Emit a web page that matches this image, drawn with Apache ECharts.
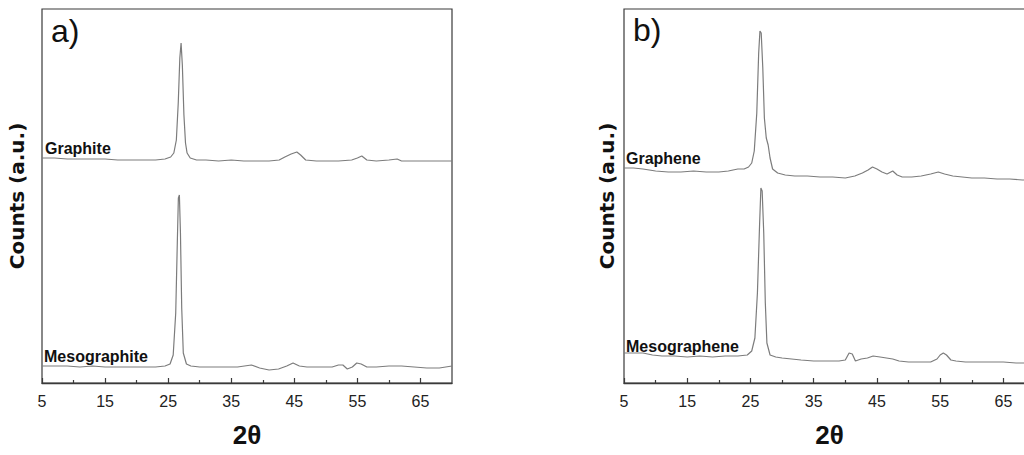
<!DOCTYPE html>
<html><head><meta charset="utf-8">
<script src="https://cdn.jsdelivr.net/npm/echarts@6/dist/echarts.min.js"></script>
<style>html,body{margin:0;padding:0;background:#fff}#c{width:1024px;height:455px}</style>
</head><body><div id="c"></div>
<script>
// tick labels / ticks (2θ)
const tickLabels = [5, 15, 25, 35, 45, 55, 65];
const minorTicks = [10, 20, 30, 40, 50, 60];

// Panel a) Graphite
const graphiteX = [5,7,9,11,13,15,17,19,21,23,24.5,25.4,25.9,26.3,26.6,26.85,27.05,27.25,27.5,27.75,28.0,28.5,29.5,31,33,35,37,39,41,42.6,43.5,44.5,45.4,46.0,46.8,48.5,50,52,54.1,55.0,55.7,56.5,58,60,61.3,62,64,66,68,70];
const graphiteY = [225,225,224,224,224,224,223,223,223,223,224,226,230,243,280,325,340,318,268,240,230,225,223,223,222,223,222,222,222,223,226,229,231,228,223,222,222,222,223,225,227,223,222,223,224,222,222,222,222,222];

// Panel a) Mesographite
const mesographiteX = [5,7,9,11,13,15,17,19,21,23,24.5,25.3,25.8,26.2,26.45,26.62,26.78,26.95,27.15,27.4,27.9,28.6,30,32,34,36,38.2,39.5,41,42.5,43.8,44.8,45.8,47,49,51,52,52.7,53.4,54.2,54.9,55.6,56.5,58,60,62,64,66,68,70];
const mesographiteY = [17,17,17,16,17,16,16,16,16,16,17,19,28,70,140,185,188,150,75,30,19,17,16,16,16,16,18,15,13,14,17,20,17,16,16,16,18,18,14,16,20,19,16,16,17,17,16,15,15,17];

// Panel b) Graphene
const grapheneX = [5,6.5,8,10,12,14,16,18,20,21.5,23,24,24.7,25.2,25.6,26.0,26.3,26.5,26.7,26.95,27.2,27.5,27.8,28.1,28.5,29.3,30.5,32,34,36,38,40,41.5,42.7,43.6,44.3,45.0,45.8,46.6,47.5,48.2,49,50.5,52,53.5,54.7,55.7,57,58.5,60,62,64,66,68,70];
const grapheneY = [215,215,214,212,211,211,212,211,211,212,214,214,216,220,232,270,330,352,350,315,265,245,238,225,214,210,208,207,207,206,206,205,207,210,213,216,214,211,209,212,208,206,206,207,209,211,209,207,206,205,205,204,204,203,203];

// Panel b) Mesographene
const mesographeneX = [5,6.5,8,9.5,11,13,15,17,19,21,23,24.5,25.2,25.7,26.1,26.45,26.65,26.85,27.1,27.35,27.6,28.1,29,30,31.5,33,35,37,39,40,40.6,41.1,41.6,42.5,43.5,44.4,45.5,46.5,47.5,48.5,50,52,53.5,54.5,55.0,55.5,56.0,56.7,57.5,59,61,63,65,67,70];
const mesographeneY = [30,30,30,28,27,27,26,27,26,27,27,28,32,45,90,160,195,192,150,80,40,28,26,25,24,23,22,22,22,23,30,29,22,24,25,27,26,25,24,22,21,21,21,24,28,30,28,23,22,21,21,21,21,20,20];

const zip = (xs, ys) => xs.map((x, i) => [x, ys[i]]);

const chart = echarts.init(document.getElementById('c'), null, {renderer: 'svg'});

const lineColor = '#7c7c7c';
const frameColor = '#3a3a3a';

function majorAxis(gridIndex) {
  return {
    type: 'value', gridIndex: gridIndex, min: 5, max: 70, position: 'bottom',
    name: '2θ', nameLocation: 'middle', nameGap: 39,
    nameTextStyle: {fontFamily: 'Liberation Sans', fontWeight: 'bold', fontSize: 26, color: '#111'},
    axisLine: {show: true, lineStyle: {color: frameColor, width: 1.4}},
    axisTick: {show: true, inside: true, length: 5, customValues: tickLabels, lineStyle: {color: frameColor, width: 1.2}},
    axisLabel: {show: true, customValues: tickLabels, margin: 10, fontFamily: 'Liberation Sans', fontSize: 16, color: '#222'},
    splitLine: {show: false}
  };
}
function minorAxis(gridIndex) {
  return {
    type: 'value', gridIndex: gridIndex, min: 5, max: 70, position: 'bottom',
    axisLine: {show: false},
    axisTick: {show: true, inside: true, length: 3, customValues: minorTicks, lineStyle: {color: frameColor, width: 1.2}},
    axisLabel: {show: false},
    splitLine: {show: false}
  };
}
function yAx(gridIndex, gap) {
  return {
    type: 'value', gridIndex: gridIndex, min: 0, max: 374,
    name: 'Counts (a.u.)', nameLocation: 'middle', nameRotate: 90, nameGap: gap,
    nameTextStyle: {fontFamily: 'DejaVu Sans', fontWeight: 'bold', fontSize: 20, color: '#111'},
    axisLine: {show: false}, axisTick: {show: false}, axisLabel: {show: false}, splitLine: {show: false}
  };
}
function lineSeries(name, xi, yi, data) {
  return {
    name: name, type: 'line', xAxisIndex: xi, yAxisIndex: yi, data: data,
    showSymbol: false, symbol: 'none', smooth: false, animation: false,
    lineStyle: {color: lineColor, width: 1.2}
  };
}
function txt(x, y, text, size, weight) {
  return {
    type: 'text', x: x, y: y, silent: true,
    style: {text: text, fontFamily: 'Liberation Sans', fontSize: size, fontWeight: weight, fill: '#111', textVerticalAlign: 'middle', verticalAlign: 'middle', textAlign: 'left', align: 'left'}
  };
}

chart.setOption({
  animation: false,
  backgroundColor: '#fff',
  grid: [
    {left: 42, top: 9, width: 410, height: 374, show: true, borderColor: frameColor, borderWidth: 1.2, backgroundColor: 'transparent', outerBoundsMode: 'none'},
    {left: 624, top: 9, width: 411, height: 374, show: true, borderColor: frameColor, borderWidth: 1.2, backgroundColor: 'transparent', outerBoundsMode: 'none'}
  ],
  xAxis: [majorAxis(0), minorAxis(0), majorAxis(1), minorAxis(1)],
  yAxis: [yAx(0, 15), yAx(1, 7)],
  series: [
    lineSeries('Graphite', 0, 0, zip(graphiteX, graphiteY)),
    lineSeries('Mesographite', 0, 0, zip(mesographiteX, mesographiteY)),
    lineSeries('Graphene', 2, 1, zip(grapheneX, grapheneY)),
    lineSeries('Mesographene', 2, 1, zip(mesographeneX, mesographeneY))
  ],
  graphic: [
    txt(51, 31, 'a)', 32, 'normal'),
    txt(633, 30, 'b)', 32, 'normal'),
    txt(45, 148, 'Graphite', 16, 'bold'),
    txt(44, 356, 'Mesographite', 16, 'bold'),
    txt(626, 158, 'Graphene', 16, 'bold'),
    txt(626, 346, 'Mesographene', 16, 'bold')
  ]
});
</script>
</body></html>
